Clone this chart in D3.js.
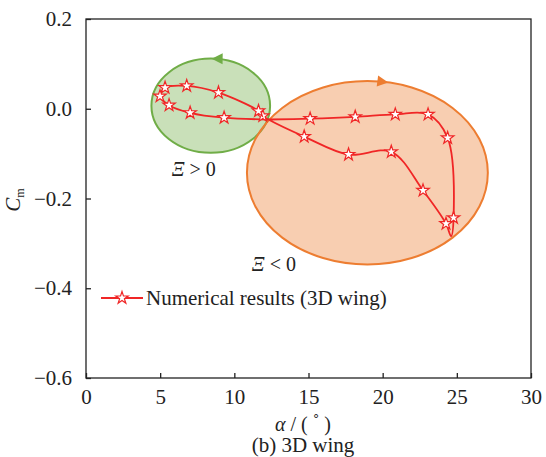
<!DOCTYPE html>
<html>
<head>
<meta charset="utf-8">
<script src="https://cdn.jsdelivr.net/npm/d3@7"></script>
<style>
  body { margin: 0; background: #fff; }
  svg text { font-family: "Liberation Serif", "Times New Roman", serif !important; fill: #222; }
</style>
</head>
<body>
<svg></svg>
<script>
// hysteresis loop, Cm vs alpha (3D wing)
let alpha = [12.30, 15.11, 18.15, 20.85, 23.06, 24.38, 24.78, 24.61, 24.27, 22.72, 20.58, 17.70, 14.71,
             12.30, 11.92, 11.63, 8.93, 6.79, 5.33, 4.99, 5.60, 7.02, 9.31, 12.30]
let cm = [-0.024, -0.022, -0.018, -0.0125, -0.0125, -0.065, -0.243, -0.284, -0.256, -0.182, -0.096, -0.102, -0.062,
          -0.024, -0.016, -0.005, 0.036, 0.051, 0.047, 0.028, 0.008, -0.009, -0.020, -0.024]
// which points carry a star marker
let starred = [0, 1, 1, 1, 1, 1, 1, 0, 1, 1, 1, 1, 1,
               0, 1, 1, 1, 1, 1, 1, 1, 1, 1, 0]

let xTicks = [0, 5, 10, 15, 20, 25, 30]
let yTicks = [0.2, 0.0, -0.2, -0.4, -0.6]

// shaded regions (Ξ > 0 green, Ξ < 0 orange)
let regionLabel = ["Ξ > 0", "Ξ < 0"]
let regionCx = [8.41, 18.97]
let regionCy = [0.0067, -0.1427]
let regionRx = [4.0, 8.12]
let regionRy = [0.105, 0.2044]
let arrowAlpha = [8.47, 20.38]
let labelAlpha = [5.78, 11.18]
let labelCm = [-0.150, -0.362]

let legendText = "Numerical results (3D wing)"

let width = 546
let height = 457
let mLeft = 86, mRight = 531, mTop = 19, mBottom = 378

let svg = d3.select("svg").attr("width", width).attr("height", height)

let xScale = d3.scaleLinear().domain([0, 30]).range([mLeft, mRight])
let yScale = d3.scaleLinear().domain([-0.6, 0.2]).range([mBottom, mTop])

let stroke = ["#70ad47", "#ed7d31"]
let fill = ["rgba(112,173,71,0.38)", "rgba(237,125,49,0.38)"]
let dir = [1, -1]
let red = "#f02626"

// regions
regionCx.forEach((cx, i) => {
  let px = xScale(cx), py = yScale(regionCy[i])
  let rx = xScale(cx + regionRx[i]) - px
  let ry = py - yScale(regionCy[i] + regionRy[i])
  svg.append("ellipse")
     .attr("cx", px).attr("cy", py)
     .attr("rx", rx).attr("ry", ry)
     .attr("fill", fill[i])
     .attr("stroke", stroke[i])
     .attr("stroke-width", 2)
})

// direction arrows on top of each region
regionCx.forEach((cx, i) => {
  let px = xScale(cx), py = yScale(regionCy[i])
  let rx = xScale(cx + regionRx[i]) - px
  let ry = py - yScale(regionCy[i] + regionRy[i])
  let ax = xScale(arrowAlpha[i])
  let t = Math.acos((ax - px) / rx)
  let ay = py - ry * Math.sin(t)
  let dx = -rx * Math.sin(t) * dir[i], dy = -ry * Math.cos(t) * dir[i]
  let ang = Math.atan2(dy, dx) * 180 / Math.PI
  svg.append("path")
     .attr("d", "M0,0 L-11,-5.5 L-11,5.5 Z")
     .attr("fill", stroke[i])
     .attr("transform", "translate(" + ax + "," + ay + ") rotate(" + ang + ")")
})

// frame
svg.append("rect")
   .attr("x", mLeft).attr("y", mTop)
   .attr("width", mRight - mLeft).attr("height", mBottom - mTop)
   .attr("fill", "none").attr("stroke", "#222").attr("stroke-width", 1.3)

let xAxis = d3.axisBottom(xScale).tickValues(xTicks).tickSizeInner(-5).tickSizeOuter(0).tickPadding(11)
  .tickFormat(d => d)
let yAxis = d3.axisLeft(yScale).tickValues(yTicks).tickSizeInner(-5).tickSizeOuter(0).tickPadding(14)
  .tickFormat(d => d3.format(".1f")(d).replace("-", "\u2212"))

let gx = svg.append("g").attr("transform", "translate(0," + mBottom + ")").call(xAxis)
let gy = svg.append("g").attr("transform", "translate(" + mLeft + ",0)").call(yAxis)
;[gx, gy].forEach(g => {
  g.attr("font-family", null).attr("font-size", null)
  g.select(".domain").remove()
  g.selectAll("line").attr("stroke", "#222").attr("stroke-width", 1.3)
  g.selectAll("text").attr("font-size", 21).attr("fill", "#222")
})

// the loop curve
let pts = alpha.map((a, i) => [xScale(a), yScale(cm[i])])
svg.append("path")
   .attr("d", d3.line().curve(d3.curveCatmullRom.alpha(0.5))(pts))
   .attr("fill", "none")
   .attr("stroke", red)
   .attr("stroke-width", 1.8)

let star = d3.symbol().type(d3.symbolStar).size(48)
svg.selectAll(".star")
   .data(pts.filter((p, i) => starred[i]))
   .enter()
   .append("path")
   .attr("class", "star")
   .attr("d", star)
   .attr("transform", d => "translate(" + d[0] + "," + d[1] + ")")
   .attr("fill", "#fff")
   .attr("stroke", red)
   .attr("stroke-width", 1.2)

// region labels
regionLabel.forEach((lab, i) => {
  let t = svg.append("text")
     .attr("x", xScale(labelAlpha[i]))
     .attr("y", yScale(labelCm[i]))
     .attr("font-size", 20)
  t.append("tspan").attr("font-style", "italic").text(lab.slice(0, 1))
  t.append("tspan").text(lab.slice(1))
})

// legend
svg.append("line")
   .attr("x1", 101).attr("x2", 143).attr("y1", 298).attr("y2", 298)
   .attr("stroke", red).attr("stroke-width", 1.8)
svg.append("path")
   .attr("d", star)
   .attr("transform", "translate(122,298)")
   .attr("fill", "#fff").attr("stroke", red).attr("stroke-width", 1.2)
svg.append("text")
   .attr("x", 146).attr("y", 305)
   .attr("font-size", 21)
   .text(legendText)

// axis titles
let xt = svg.append("text")
   .attr("x", 303).attr("y", 431)
   .attr("text-anchor", "middle")
   .attr("font-size", 20)
xt.append("tspan").attr("font-style", "italic").text("α")
xt.append("tspan").text(" / ( ")
xt.append("tspan").attr("dy", -2).text("˚")
xt.append("tspan").attr("dy", 2).text(" )")

svg.append("text")
   .attr("x", 303).attr("y", 452)
   .attr("text-anchor", "middle")
   .attr("font-size", 21)
   .text("(b) 3D wing")

let yt = svg.append("text")
   .attr("transform", "translate(20,200) rotate(-90)")
   .attr("text-anchor", "middle")
   .attr("font-size", 21)
yt.append("tspan").attr("font-style", "italic").text("C")
yt.append("tspan").attr("font-size", 12).attr("dy", 4).text("m")
</script>
</body>
</html>
